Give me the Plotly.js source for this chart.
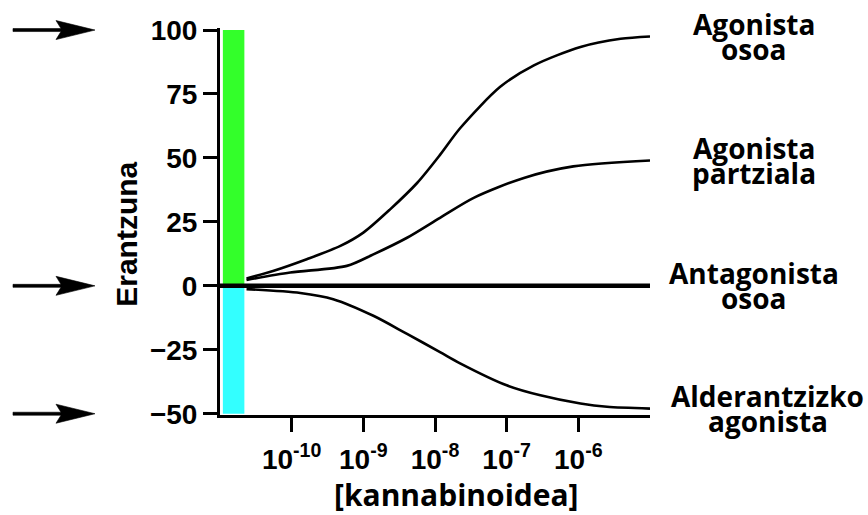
<!DOCTYPE html>
<html>
<head>
<meta charset="utf-8">
<script src="https://cdn.plot.ly/plotly-3.0.1.min.js"></script>
<style>html,body{margin:0;padding:0;background:#fff;}#chart{width:868px;height:515px;}</style>
</head>
<body>
<div id="chart"></div>
<script>
// ---- data ----
// concentrations (M) given as powers of ten
var fullAgonistLogX = [-10.63, -10.26, -9.79, -9.32, -9.0, -8.63, -8.25, -7.93, -7.65, -7.09, -6.62, -5.97, -5.41, -5.0];
var fullAgonistY    = [2.9, 5.8, 10.4, 15.6, 20.8, 29.8, 40.2, 51.2, 61.6, 77.8, 86.2, 93.4, 96.6, 97.5];

var partialAgonistLogX = [-10.63, -10.02, -9.23, -8.86, -8.39, -7.93, -7.46, -6.76, -6.07, -5.0];
var partialAgonistY    = [2.3, 5.2, 7.8, 12.3, 18.8, 26.6, 34.4, 42.2, 46.7, 49];

var antagonistLogX = [-11, -5];
var antagonistY    = [0, 0];

var inverseAgonistLogX = [-10.63, -9.88, -9.42, -8.86, -8.39, -7.93, -7.65, -7.0, -6.53, -5.97, -5.6, -5.0];
var inverseAgonistY    = [-1.3, -2.8, -5.2, -11.7, -18.8, -25.9, -30.3, -38.9, -42.8, -46, -47.3, -48];

// coloured response bands (left of the curves)
var bandLogX   = [-10.96, -10.66];
var greenBand  = [0, 100];
var cyanBand   = [-50, 0];

// tick labels
var xTickExp   = [-10, -9, -8, -7, -6];
var xTickText  = ['10<sup>-10</sup>', '10<sup>-9</sup>', '10<sup>-8</sup>', '10<sup>-7</sup>', '10<sup>-6</sup>'];
var yTickVals  = [-50, -25, 0, 25, 50, 75, 100];

// titles
var xTitle = '[kannabinoidea]';
var yTitle = 'Erantzuna';

// arrow levels on the left
var arrowLevels = [100, 0, -50];

// right-hand labels (two lines each), placed at each series' end value
var labelLines = [
  ['Agonista', 'osoa'],
  ['Agonista', 'partziala'],
  ['Antagonista', 'osoa'],
  ['Alderantzizko', 'agonista']
];
var labelLevels = [fullAgonistY[fullAgonistY.length-1], partialAgonistY[partialAgonistY.length-1], antagonistY[antagonistY.length-1], inverseAgonistY[inverseAgonistY.length-1]];

function pow10(a){ return a.map(function(v){ return Math.pow(10, v); }); }

var W = 868, H = 515;
var margin = {l: 220, r: 218, t: 28, b: 100};
var yRange = [-50.5, 100.8];
var plotW = W - margin.l - margin.r, plotH = H - margin.t - margin.b;

var traces = [];
traces.push({
  x: pow10([bandLogX[0], bandLogX[0], bandLogX[1], bandLogX[1]]),
  y: [greenBand[0], greenBand[1], greenBand[1], greenBand[0]],
  fill: 'toself', fillcolor: '#33ff2a', line: {width: 0}, mode: 'lines', hoverinfo: 'skip'
});
traces.push({
  x: pow10([bandLogX[0], bandLogX[0], bandLogX[1], bandLogX[1]]),
  y: [cyanBand[0], cyanBand[1], cyanBand[1], cyanBand[0]],
  fill: 'toself', fillcolor: '#33ffff', line: {width: 0}, mode: 'lines', hoverinfo: 'skip'
});
var curveLine = {color: '#000', width: 2.6, shape: 'spline', smoothing: 0.8};
traces.push({x: pow10(fullAgonistLogX), y: fullAgonistY, mode: 'lines', line: curveLine});
traces.push({x: pow10(partialAgonistLogX), y: partialAgonistY, mode: 'lines', line: curveLine});
traces.push({x: pow10(inverseAgonistLogX), y: inverseAgonistY, mode: 'lines', line: curveLine});
traces.push({x: pow10(antagonistLogX), y: antagonistY, mode: 'lines', line: {color: '#000', width: 4.5}});

// barbed arrows: paper coordinates (so they are not clipped), geometry as pixel offsets from the tip
var tipPaperX = -0.2907;
var pxToPaperX = function(dx){ return dx / plotW; };
var pxToPaperY = function(dy){ return dy / plotH; };
var levelToPaperY = function(v){ return (v - yRange[0]) / (yRange[1] - yRange[0]); };
var arrowPx = [[0, 0], [-39, 9.5], [-34, 1.5], [-82, 1.5], [-82, -1.5], [-34, -1.5], [-39, -9.5]];
var shapes = arrowLevels.map(function(v){
  var yc = levelToPaperY(v);
  var d = arrowPx.map(function(p, k){
    return (k === 0 ? 'M ' : 'L ') + (tipPaperX + pxToPaperX(p[0])).toFixed(5) + ',' + (yc + pxToPaperY(p[1])).toFixed(5);
  }).join(' ') + ' Z';
  return {type: 'path', xref: 'paper', yref: 'paper', path: d, fillcolor: '#000', line: {color: '#000', width: 0.6}, layer: 'above'};
});

var annotations = [];
var labelCentersPaper = [1.242, 1.242, 1.242, 1.274];
labelLines.forEach(function(lines, i){
  lines.forEach(function(t, j){
    annotations.push({
      xref: 'paper', yref: 'y', x: labelCentersPaper[i], y: labelLevels[i], text: '<b>' + t + '</b>',
      showarrow: false, xanchor: 'center', yanchor: 'middle', yshift: j === 0 ? 12.5 : -12.5,
      font: {family: 'Open Sans', size: 28, color: '#000'}
    });
  });
});
// axis titles placed as in the reference
annotations.push({
  xref: 'paper', yref: 'paper', x: -0.216, y: 0.466, text: '<b>' + yTitle + '</b>', textangle: -90,
  showarrow: false, xanchor: 'center', yanchor: 'middle',
  font: {family: 'Liberation Sans', size: 30, color: '#000'}
});
annotations.push({
  xref: 'paper', yref: 'paper', x: 0.551, y: -0.205, text: '<b>' + xTitle + '</b>',
  showarrow: false, xanchor: 'center', yanchor: 'middle',
  font: {family: 'Open Sans', size: 30, color: '#000'}
});

var layout = {
  width: W, height: H,
  margin: {l: margin.l, r: margin.r, t: margin.t, b: margin.b, pad: 0},
  paper_bgcolor: '#fff', plot_bgcolor: '#fff',
  showlegend: false,
  xaxis: {
    type: 'log', range: [-11, -5],
    tickvals: pow10(xTickExp), ticktext: xTickText,
    ticks: 'outside', ticklen: 14, tickwidth: 3, tickcolor: '#000',
    showline: true, linewidth: 3, linecolor: '#000', showgrid: false, zeroline: false,
    ticklabelstandoff: 3,
    tickfont: {family: 'Liberation Sans', size: 28, color: '#000', weight: 'bold'}
  },
  yaxis: {
    range: yRange,
    tickvals: yTickVals,
    ticks: 'outside', ticklen: 14, tickwidth: 3, tickcolor: '#000',
    showline: true, linewidth: 3, linecolor: '#000', showgrid: false, zeroline: false,
    tickfont: {family: 'Liberation Sans', size: 28, color: '#000', weight: 'bold'}
  },
  shapes: shapes,
  annotations: annotations
};

Plotly.newPlot('chart', traces, layout, {displayModeBar: false, staticPlot: true});
</script>
</body>
</html>
